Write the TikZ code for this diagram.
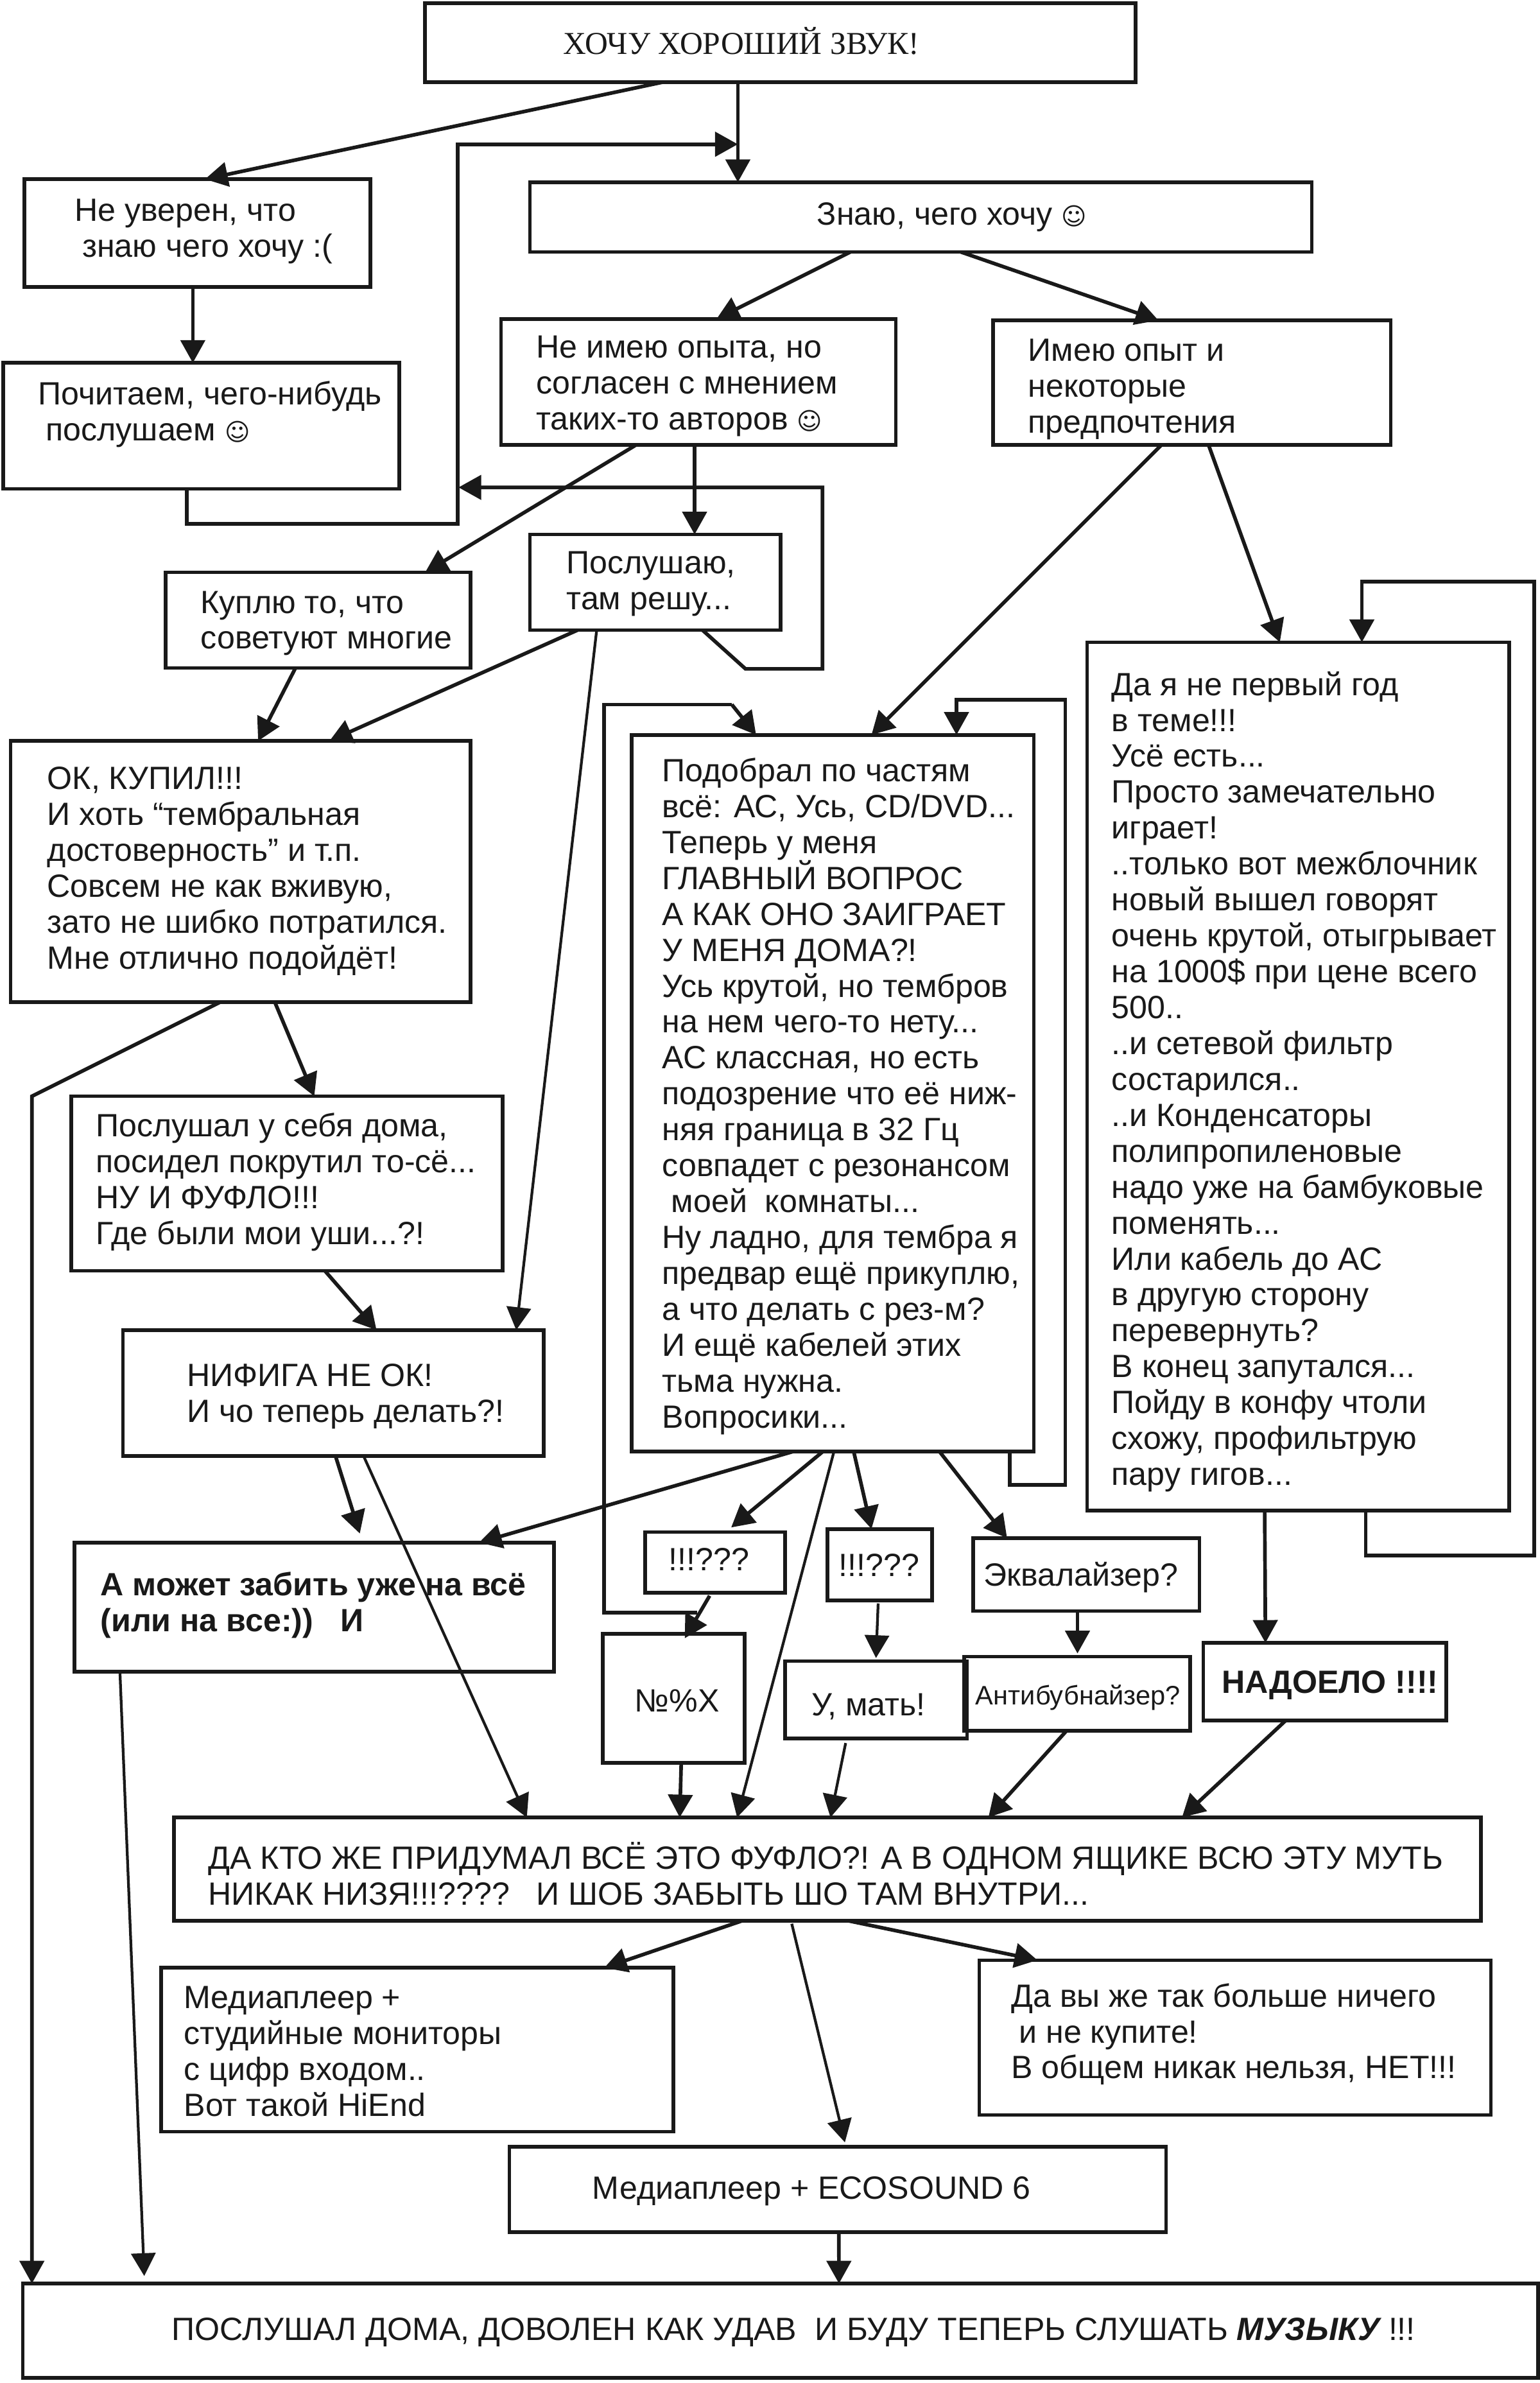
\documentclass[tikz,border=0pt]{standalone}
\usepackage{fontspec}
\setmainfont{Liberation Sans}
\newfontfamily\titlefont{Liberation Serif}
\newfontfamily\symfont{DejaVu Sans}
\usetikzlibrary{arrows.meta,fit}
\newcommand{\smileface}{{\symfont\fontsize{16}{16}\selectfont ☺}}
\tikzset{
  flowbox/.style={draw=black!90, line width=2.4pt, inner sep=0pt, outer sep=0pt, rectangle},
  txt/.style={anchor=north west, inner sep=0pt, align=left, text=black!90, yshift=-4pt,
    font=\fontsize{21.2}{23.65}\selectfont, execute at begin node=\strut},
  mid/.style={anchor=center, inner sep=0pt, text=black!90, yshift=-4pt, font=\fontsize{21.2}{23.65}\selectfont},
  link/.style={draw=black!90, line width=2.4pt},
  thin link/.style={draw=black!90, line width=1.8pt},
  arr/.style={link, -{Triangle[length=15pt,width=16pt]}},
  thin arr/.style={thin link, -{Triangle[length=15pt,width=16pt]}}
}
\begin{document}
\begin{tikzpicture}[x=1pt,y=1pt]
\useasboundingbox (0,0) rectangle (1014,-1569.5);
% boxes
\node [flowbox, fit={(280,-2) (748,-54)}] (want) {};
\node [flowbox, fit={(349,-120) (864,-166)}] (know) {};
\node [flowbox, fit={(16,-118) (244,-189)}] (sure) {};
\node [flowbox, fit={(2,-239) (263,-322)}] (read) {};
\node [flowbox, fit={(330,-210) (590,-293)}] (opinion) {};
\node [flowbox, fit={(654,-211) (916,-293)}] (exper) {};
\node [flowbox, fit={(109,-377) (310,-440)}] (buy) {};
\node [flowbox, fit={(349,-352) (514,-415)}] (listen) {};
\node [flowbox, fit={(7,-488) (310,-660)}] (bought) {};
\node [flowbox, fit={(47,-722) (331,-837)}] (heard) {};
\node [flowbox, fit={(81,-876) (358,-959)}] (notok) {};
\node [flowbox, fit={(49,-1016) (365,-1101)}] (forget) {};
\node [flowbox, fit={(416,-484) (681,-956)}] (parts) {};
\node [flowbox, fit={(716,-423) (994,-995)}] (oldhand) {};
\node [flowbox, fit={(425,-1009) (517,-1049)}] (quest) {};
\node [flowbox, fit={(545,-1007) (614,-1054)}] (questb) {};
\node [flowbox, fit={(641,-1013) (790,-1061)}] (equal) {};
\node [flowbox, fit={(397,-1076) (490.5,-1161)}] (curse) {};
\node [flowbox, fit={(517,-1094) (637,-1145)}] (mother) {};
\node [flowbox, fit={(635,-1091) (784,-1140)}] (antibub) {};
\node [flowbox, fit={(792.5,-1082) (952.5,-1133)}] (tired) {};
\node [flowbox, fit={(114.5,-1197) (975.5,-1265)}] (who) {};
\node [flowbox, fit={(106,-1296) (443.5,-1404)}] (player) {};
\node [flowbox, fit={(645,-1291) (982,-1393)}] (never) {};
\node [flowbox, fit={(335.5,-1414) (768,-1470)}] (eco) {};
\node [flowbox, fit={(15,-1504) (1013,-1566)}] (music) {};
% texts
\node [mid, anchor=west, font=\titlefont\fontsize{21}{24}\selectfont] (wantT) at (371,-23) {ХОЧУ ХОРОШИЙ ЗВУК!};
\node [mid, anchor=west] (knowT) at (538,-139) {Знаю, чего хочу \smileface};
\node [txt] (sureT) at (49,-127) {Не уверен, что\\ \hspace*{5pt}знаю чего хочу :(};
\node [txt] (readT) at (25,-247) {Почитаем, чего-нибудь\\ \hspace*{5pt}послушаем \smileface};
\node [txt] (opinionT) at (353,-217) {Не имею опыта, но\\согласен с мнением\\таких-то авторов \smileface};
\node [txt] (experT) at (677,-219) {Имею опыт и\\некоторые\\предпочтения};
\node [txt] (buyT) at (132,-385) {Куплю то, что\\советуют многие};
\node [txt] (listenT) at (373,-359) {Послушаю,\\там решу...};
\node [txt] (boughtT) at (31,-501) {ОК, КУПИЛ!!!\\И хоть “тембральная\\достоверность” и т.п.\\Совсем не как вживую,\\зато не шибко потратился.\\Мне отлично подойдёт!};
\node [txt] (heardT) at (63,-729) {Послушал у себя дома,\\посидел покрутил то-сё...\\НУ И ФУФЛО!!!\\Где были мои уши...?!};
\node [txt] (notokT) at (123,-894) {НИФИГА НЕ ОК!\\И чо теперь делать?!};
\node [txt, font=\bfseries\fontsize{21.2}{23.65}\selectfont] (forgetT) at (66,-1031) {А может забить уже на всё\\(или на все:))\ \ \ И};
\node [txt] (partsT) at (436,-495) {Подобрал по частям\\всё: АС, Усь, CD/DVD...\\Теперь у меня\\ГЛАВНЫЙ ВОПРОС\\А КАК ОНО ЗАИГРАЕТ\\У МЕНЯ ДОМА?!\\Усь крутой, но тембров\\на нем чего-то нету...\\АС классная, но есть\\подозрение что её ниж-\\няя граница в 32 Гц\\совпадет с резонансом\\ \hspace*{6pt}моей\ \ комнаты...\\Ну ладно, для тембра я\\предвар ещё прикуплю,\\а что делать с рез-м?\\И ещё кабелей этих\\тьма нужна.\\Вопросики...};
\node [txt] (oldhandT) at (732,-438) {Да я не первый год\\в теме!!!\\Усё есть...\\Просто замечательно\\играет!\\..только вот межблочник\\новый вышел говорят\\очень крутой, отыгрывает\\на 1000\$ при цене всего\\500..\\..и сетевой фильтр\\состарился..\\..и Конденсаторы\\полипропиленовые\\надо уже на бамбуковые\\поменять...\\Или кабель до АС\\в другую сторону\\перевернуть?\\В конец запутался...\\Пойду в конфу чтоли\\схожу, профильтрую\\пару гигов...};
\node [mid] (questT) at (467,-1023) {!!!???};
\node [mid] (questbT) at (579,-1027) {!!!???};
\node [mid] (equalT) at (712,-1035) {Эквалайзер?};
\node [mid] (curseT) at (446,-1116) {№\%Х};
\node [mid] (motherT) at (572,-1120) {У, мать!};
\node [mid, font=\fontsize{17.6}{20}\selectfont] (antibubT) at (710,-1114) {Антибубнайзер?};
\node [mid, font=\bfseries\fontsize{21.2}{24}\selectfont] (tiredT) at (876,-1106) {НАДОЕЛО !!!!};
\node [txt] (whoT) at (137,-1209) {ДА КТО ЖЕ ПРИДУМАЛ ВСЁ ЭТО ФУФЛО?! А В ОДНОМ ЯЩИКЕ ВСЮ ЭТУ МУТЬ\\НИКАК НИЗЯ!!!????\ \ \ И ШОБ ЗАБЫТЬ ШО ТАМ ВНУТРИ...};
\node [txt] (playerT) at (121,-1304) {Медиаплеер +\\студийные мониторы\\с цифр входом..\\Вот такой HiEnd};
\node [txt] (neverT) at (666,-1302) {Да вы же так больше ничего\\ \hspace*{5pt}и не купите!\\В общем никак нельзя, НЕТ!!!};
\node [mid, anchor=west] (ecoT) at (390,-1439) {Медиаплеер + ECOSOUND 6};
\node [mid, anchor=west] (musicT) at (113,-1532) {ПОСЛУШАЛ ДОМА, ДОВОЛЕН КАК УДАВ\ \ И БУДУ ТЕПЕРЬ СЛУШАТЬ {\bfseries\itshape МУЗЫКУ} !!!};
% bend points and joins
\coordinate (joinA) at (486,-95);
\coordinate (joinB) at (302,-321);
\coordinate (joinC) at (459,-1062);
\coordinate (bendA) at (301.5,-345);
\coordinate (bendB) at (491,-440.5);
\coordinate (bendC) at (541.7,-321);
\coordinate (bendD) at (398,-464);
\coordinate (bendE) at (482,-464);
\coordinate (bendF) at (701.6,-978);
\coordinate (bendG) at (630,-461);
\coordinate (bendH) at (1010.6,-1024.5);
\coordinate (bendI) at (897,-383);
\coordinate (bendJ) at (21,-722);
% connectors
\draw [arr] ([xshift=157]want.south west) -- ([xshift=119]sure.north west);
\draw [arr] ([xshift=206]want.south west) -- ([xshift=137]know.north west);
\draw [arr] ([xshift=111]sure.south west) -- ([xshift=125]read.north west);
\draw [arr] ([xshift=121]read.south west) |- (bendA) |- (joinA);
\draw [arr] ([xshift=211]know.south west) -- ([xshift=142]opinion.north west);
\draw [arr] ([xshift=284]know.south west) -- ([xshift=109]exper.north west);
\draw [arr] ([xshift=89]opinion.south west) -- ([xshift=171]buy.north west);
\draw [arr] ([xshift=127.5]opinion.south west) -- ([xshift=108.5]listen.north west);
\draw [arr] ([xshift=113.7]listen.south west) -- (bendB) -| (bendC) -- (joinB);
\draw [arr] ([xshift=85.6]buy.south west) -- ([xshift=163]bought.north west);
\draw [arr] ([xshift=31.4]listen.south west) -- ([xshift=210]bought.north west);
\draw [thin arr] ([xshift=44]listen.south west) -- ([xshift=259]notok.north west);
\draw [arr] ([xshift=138]bought.south west) -- (bendJ) -- ([xshift=6]music.north west);
\draw [arr] ([xshift=174]bought.south west) -- ([xshift=160]heard.north west);
\draw [arr] ([xshift=167]heard.south west) -- ([xshift=167]notok.north west);
\draw [arr] ([xshift=140]notok.south west) -- ([xshift=188,yshift=6]forget.north west);
\draw [thin arr] ([xshift=158.5]notok.south west) -- ([xshift=232.5]who.north west);
\draw [arr] ([xshift=106.4]parts.south west) -- ([xshift=266.5]forget.north west);
\draw [arr] ([xshift=126]parts.south west) -- ([xshift=56.6,yshift=3]quest.north west);
\draw [thin arr] ([xshift=133.3]parts.south west) -- ([xshift=371]who.north west);
\draw [arr] ([xshift=146.3]parts.south west) -- ([xshift=29]questb.north west);
\draw [arr] ([xshift=202.8]parts.south west) -- ([xshift=22.3]equal.north west);
\draw [arr] ([xshift=42.4,yshift=-2]quest.south west) -- ([xshift=54,yshift=-3]curse.north west);
\draw [link] (joinC) -| (bendD) -- (bendE);
\draw [arr] (bendE) -- ([xshift=82]parts.north west);
\draw [arr] ([xshift=249]parts.south west) |- (bendF) |- (bendG) -- ([xshift=214]parts.north west);
\draw [arr] ([xshift=183.5]oldhand.south west) |- (bendH) |- (bendI) -- ([xshift=181]oldhand.north west);
\draw [arr] ([xshift=111]exper.south west) -- ([xshift=158]parts.north west);
\draw [arr] ([xshift=142]exper.south west) -- ([xshift=127]oldhand.north west);
\draw [arr] ([xshift=117]oldhand.south west) -- ([xshift=41]tired.north west);
\draw [arr] ([xshift=68.7]equal.south west) -- ([xshift=74.7,yshift=2]antibub.north west);
\draw [thin arr] ([xshift=33.4,yshift=-2]questb.south west) -- ([xshift=60,yshift=2]mother.north west);
\draw [arr] ([xshift=51.7]curse.south west) -- ([xshift=333.2]who.north west);
\draw [thin arr] ([xshift=40,yshift=-3]mother.south west) -- ([xshift=432.5]who.north west);
\draw [arr] ([xshift=67.4]antibub.south west) -- ([xshift=536.5]who.north west);
\draw [arr] ([xshift=54.5]tired.south west) -- ([xshift=664]who.north west);
\draw [thin arr] ([xshift=30]forget.south west) -- ([xshift=80,yshift=5]music.north west);
\draw [arr] ([xshift=374.5]who.south west) -- ([xshift=292]player.north west);
\draw [thin arr] ([xshift=407,yshift=-2]who.south west) -- ([xshift=221,yshift=3]eco.north west);
\draw [arr] ([xshift=444]who.south west) -- ([xshift=38.3]never.north west);
\draw [arr] ([xshift=217]eco.south west) -- ([xshift=537.6]music.north west);
\end{tikzpicture}
\end{document}
